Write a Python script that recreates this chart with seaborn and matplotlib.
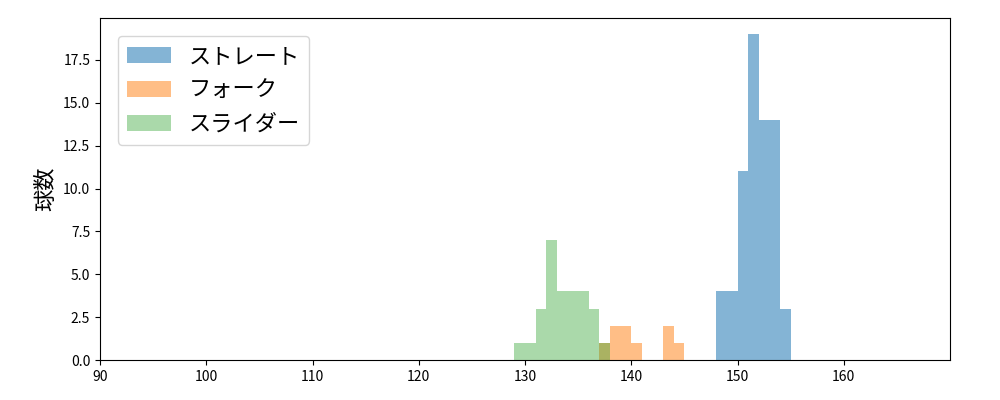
import matplotlib
matplotlib.use("Agg")
import matplotlib.pyplot as plt
import seaborn as sns
import pandas as pd

plt.rcParams["font.family"] = ["Noto Sans CJK JP", "DejaVu Sans"]

# pitch speeds (km/h) and counts per pitch type
straight_speed = [148, 149, 150, 151, 152, 153, 154]
straight_count = [4, 4, 11, 19, 14, 14, 3]

fork_speed = [137, 138, 139, 140, 143, 144]
fork_count = [1, 2, 2, 1, 2, 1]

slider_speed = [129, 130, 131, 132, 133, 134, 135, 136, 137]
slider_count = [1, 1, 3, 7, 4, 4, 4, 3, 1]

pitch_names = ["ストレート", "フォーク", "スライダー"]
colors = ["#1f77b4", "#ff7f0e", "#2ca02c"]
alphas = [0.55, 0.5, 0.4]

series = [
    (straight_speed, straight_count),
    (fork_speed, fork_count),
    (slider_speed, slider_count),
]

fig, ax = plt.subplots(figsize=(10, 4), dpi=100)

for name, color, a, (speed, count) in zip(pitch_names, colors, alphas, series):
    df = pd.DataFrame({"speed": speed, "count": count})
    sns.histplot(
        data=df, x="speed", weights="count",
        binwidth=1, binrange=(min(speed), max(speed) + 1),
        color=color, alpha=a, linewidth=0, label=name, ax=ax,
    )

ax.set_xlim(90, 170)
ax.set_xticks(range(90, 170, 10))
ax.set_xlabel("")
ax.set_ylabel("球数", fontsize=16)
ax.legend(loc="upper left", fontsize=16, borderaxespad=0.8)

plt.subplots_adjust(left=0.1, right=0.95, top=0.955, bottom=0.1)
plt.savefig("out.png")
